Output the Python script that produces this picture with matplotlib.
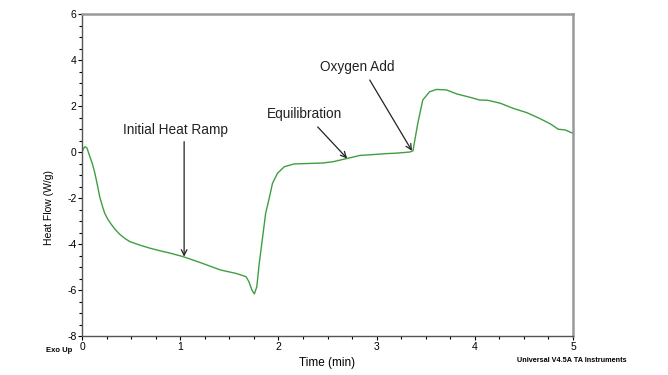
import matplotlib.pyplot as plt
from matplotlib.ticker import MultipleLocator

plt.rcParams["axes.unicode_minus"] = False

# heat flow trace (time in min, heat flow in W/g)
time_min = [0.0, 0.015, 0.03, 0.05, 0.08, 0.105, 0.13, 0.155, 0.18, 0.205, 0.23,
            0.26, 0.29, 0.34, 0.39, 0.44, 0.49, 0.59, 0.69, 0.80, 0.90,
            1.03, 1.20, 1.41, 1.57, 1.67, 1.70, 1.73, 1.755, 1.78, 1.805, 1.84,
            1.87, 1.91, 1.94, 1.99, 2.06, 2.16, 2.30, 2.45, 2.56, 2.70, 2.83,
            2.97, 3.10, 3.20, 3.34, 3.37, 3.42, 3.47, 3.54, 3.61, 3.71, 3.82,
            3.95, 4.05, 4.13, 4.26, 4.39, 4.53, 4.66, 4.77, 4.85, 4.92, 5.0]
heat_flow = [0.0, 0.15, 0.23, 0.18, -0.2, -0.5, -0.9, -1.4, -1.94, -2.32, -2.65,
             -2.9, -3.1, -3.38, -3.6, -3.77, -3.9, -4.05, -4.18, -4.3, -4.4,
             -4.55, -4.8, -5.13, -5.28, -5.42, -5.64, -6.0, -6.17, -5.86, -4.84, -3.68,
             -2.67, -1.94, -1.36, -0.93, -0.64, -0.52, -0.5, -0.48, -0.42, -0.28, -0.15,
             -0.11, -0.07, -0.05, 0.0, 0.05, 1.26, 2.26, 2.62, 2.72, 2.7, 2.52,
             2.38, 2.26, 2.25, 2.12, 1.9, 1.71, 1.46, 1.22, 0.99, 0.96, 0.81]

# annotations: text, text position, arrow start, arrow tip
notes = [("Initial Heat Ramp", (0.95, 0.95), (1.04, 0.45), (1.04, -4.55)),
         ("Equilibration", (2.27, 1.65), (2.40, 1.09), (2.70, -0.28)),
         ("Oxygen Add", (2.80, 3.71), (2.93, 3.13), (3.36, 0.05))]

fig = plt.figure(figsize=(6.68, 3.75), dpi=100)
ax = fig.add_axes([82 / 668, 1 - 336 / 375, (573 - 82) / 668, (336 - 14) / 375])

ax.plot(time_min, heat_flow, color="#3f9e42", lw=1.0)

for txt, xy_text, xy_start, xy_tip in notes:
    ax.text(xy_text[0], xy_text[1], txt, fontsize=9.8, family="Liberation Sans",
            ha="center", va="center", color="#222222")
    ax.annotate("", xy=xy_tip, xytext=xy_start,
                arrowprops=dict(arrowstyle="->", color="#222222", lw=0.9,
                                shrinkA=0, shrinkB=0))

ax.set_xlim(0, 5)
ax.set_ylim(-8, 6)
ax.xaxis.set_major_locator(MultipleLocator(1))
ax.xaxis.set_minor_locator(MultipleLocator(0.25))
ax.yaxis.set_major_locator(MultipleLocator(2))
ax.yaxis.set_minor_locator(MultipleLocator(0.5))
ax.tick_params(which="major", length=3, width=0.8, labelsize=7.5, pad=1)
ax.tick_params(which="minor", length=2, width=0.8)
for lab in ax.get_xticklabels() + ax.get_yticklabels():
    lab.set_family("Liberation Sans")

for side in ["left", "bottom"]:
    ax.spines[side].set_color("#555555")
    ax.spines[side].set_linewidth(1.0)
for side in ["top", "right"]:
    ax.spines[side].set_color("#999999")
    ax.spines[side].set_linewidth(1.8)

ax.set_xlabel("Time (min)", fontsize=8.5, family="Liberation Sans", labelpad=4)
ax.set_ylabel("Heat Flow (W/g)", fontsize=7.5, family="Liberation Sans")
ax.yaxis.set_label_coords(-0.057, 0.40)

fig.text(46 / 668, 1 - 351 / 375, "Exo Up", fontsize=5.5, weight="bold",
         family="Liberation Sans", va="center", ha="left")
fig.text(627 / 668, 1 - 360 / 375, "Universal V4.5A TA Instruments", fontsize=5.2,
         weight="bold", family="Liberation Sans", va="center", ha="right")

fig.savefig("out.png", dpi=100)
